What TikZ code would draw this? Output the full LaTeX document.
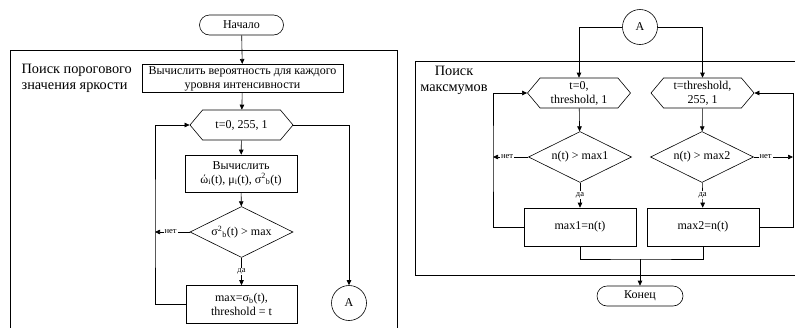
\documentclass[tikz,border=0pt]{standalone}
\usepackage{fontspec}
\setmainfont{Liberation Serif}
\usetikzlibrary{shapes.geometric,shapes.symbols,arrows.meta}

\begin{document}
\begin{tikzpicture}[x=1pt,y=1pt,>={Triangle[length=5pt,width=4.5pt]},line width=0.6pt,font=\fontsize{12}{14}\selectfont]
    \tikzstyle{block}=[draw,rectangle,align=center,inner sep=2pt]
    \tikzstyle{terminal}=[draw,rectangle,rounded corners=10pt,minimum width=84pt,minimum height=20pt]
    \tikzstyle{loop}=[draw,signal,signal to=west and east,signal pointer angle=100,minimum width=103pt,minimum height=30pt,align=center,inner sep=1pt]
    \tikzstyle{decision}=[draw,diamond,aspect=2,minimum width=103pt,minimum height=51pt,inner sep=0pt]
    \tikzstyle{connector}=[draw,circle,minimum size=35pt,inner sep=0pt]
    \tikzstyle{frame}=[line width=0.8pt]
    \tikzstyle{annot}=[font=\fontsize{8.5}{9}\selectfont,fill=white,inner sep=1pt]
    \tikzstyle{group}=[font=\fontsize{14.3}{16}\selectfont]

    \useasboundingbox (0,0) rectangle (795,-327);

    % Threshold search
    \draw[frame] (10,-330) -- (10,-50) -- (397,-50) -- (397,-330);
    \node[group, align=left, anchor=west] (G-1) at (18,-78) {Поиск порогового\\значения яркости};

    \node[terminal] (start) at (241.5,-25) {Начало};
    \node[block, minimum width=201pt, minimum height=27pt] (B-1) at (242.5,-78.5) {Вычислить вероятность для каждого\\уровня интенсивности};
    \node[loop] (L-1) at (241.5,-125) {t=0, 255, 1};
    \node[block, minimum width=112pt, minimum height=37pt] (B-2) at (241,-173.5) {Вычислить\\ώ\textsubscript{i}(t), μ\textsubscript{i}(t), σ\textsuperscript{2}\textsubscript{b}(t)};
    \node[decision] (D-1) at (241.5,-232) {σ\textsuperscript{2}\textsubscript{b}(t) > max};
    \node[block, minimum width=111pt, minimum height=38pt] (B-3) at (241.5,-304.5) {max=σ\textsubscript{b}(t),\\threshold = t};
    \node[connector] (A-1) at (349,-303) {A};
    \coordinate (J-1) at (155,-232);

    \draw[->] (start) -- (B-1);
    \draw[->] (B-1) -- (L-1);
    \draw[->] (L-1) -- (B-2);
    \draw[->] (B-2) -- (D-1);
    \draw[->] (D-1) -- node[annot]{да} (B-3);
    \draw[->] (D-1.west) -- node[annot,pos=0.55]{нет} (J-1);
    \draw[->] (B-3.west) -| (J-1) |- (L-1.west);
    \draw[->] (L-1.east) -| (A-1.north);

    % Maxima search
    \draw[frame] (800,-61) -- (415,-61) -- (415,-275) -- (800,-275);
    \node[group, align=center] (G-2) at (454,-80) {Поиск\\максмумов};

    \node[connector] (A-2) at (640,-27) {A};
    \node[loop] (L-2) at (579,-93) {t=0,\\threshold, 1};
    \node[loop] (L-3) at (702.5,-93) {t=threshold,\\255, 1};
    \node[decision] (D-2) at (580,-157) {n(t) > max1};
    \node[decision] (D-3) at (702,-157) {n(t) > max2};
    \node[block, minimum width=112pt, minimum height=38pt] (B-4) at (580,-227) {max1=n(t)};
    \node[block, minimum width=112pt, minimum height=38pt] (B-5) at (703,-227) {max2=n(t)};
    \node[terminal, minimum width=86pt] (end) at (640,-296) {Конец};
    \coordinate (J-2) at (493,-157);
    \coordinate (J-3) at (793,-157);
    \coordinate (M) at (640,-259);

    \draw[->] (A-2.west) -| (L-2.north);
    \draw[->] (A-2.east) -| (L-3.north);
    \draw[->] (L-2) -- (D-2);
    \draw[->] (L-3) -- (D-3);
    \draw[->] (D-2) -- node[annot]{да} (B-4);
    \draw[->] (D-3) -- node[annot]{да} (B-5);
    \draw[->] (D-2.west) -- node[annot,pos=0.6]{нет} (J-2);
    \draw[->] (D-3.east) -- node[annot,pos=0.3]{нет} (J-3);
    \draw[->] (B-4.west) -| (J-2) |- (L-2.west);
    \draw[->] (B-5.east) -| (J-3) |- (L-3.east);
    \draw (B-4.south) |- (M) -| (B-5.south);
    \draw[->] (M) -- (end);
\end{tikzpicture}
\end{document}
